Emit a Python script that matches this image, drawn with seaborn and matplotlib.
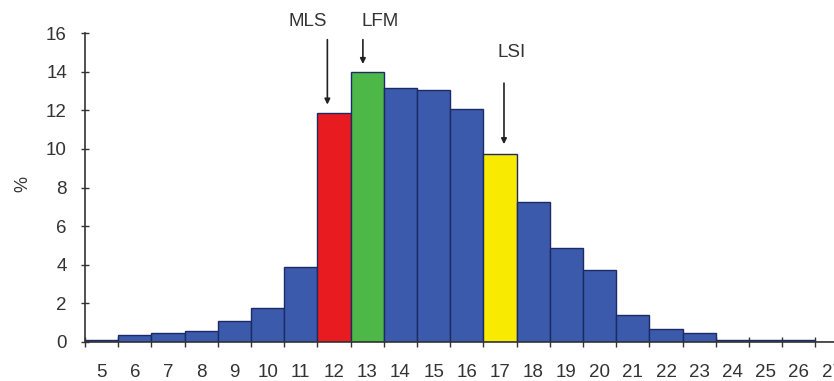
import numpy as np
import pandas as pd
import matplotlib
matplotlib.use("Agg")
import matplotlib.pyplot as plt
import seaborn as sns

# data
classes = [str(i) for i in range(5, 28)]
percent = [0.1, 0.38, 0.45, 0.55, 1.07, 1.75, 3.9, 11.85, 14.0, 13.15, 13.05,
           12.05, 9.75, 7.25, 4.85, 3.72, 1.38, 0.65, 0.47, 0.08, 0.08, 0.08, 0.0]
special = {"12": "#e81b20", "13": "#4db848", "17": "#f8ea00"}
blue = "#3b5aab"
labels = ["MLS", "LFM", "LSI"]
label_cls = ["12", "13", "17"]

df = pd.DataFrame({"cls": classes, "pct": percent})
colors = [special.get(c, blue) for c in classes]

sns.set_style("ticks")
plt.rcParams["font.family"] = ["Liberation Sans", "DejaVu Sans"]

fig = plt.figure(figsize=(8.34, 3.81), dpi=100)
ax = fig.add_axes([85 / 834, 39 / 381, 23 * 33.2 / 834, 309 / 381])

sns.barplot(data=df, x="cls", y="pct", hue="cls", palette=colors, legend=False,
            width=1.0, saturation=1, edgecolor="#1c2a66", linewidth=1.0, ax=ax)

ax.set_xlim(-0.5, 22.5)
ax.set_ylim(0, 16)
ax.set_yticks(range(0, 17, 2))
ax.set_xlabel("")
ax.set_ylabel("%", fontsize=13, color="#333333")
ax.yaxis.set_label_coords(-0.07, 0.51)

# ticks at bar edges, labels at bar centres
ax.set_xticks(np.arange(-0.5, 23, 1), minor=True)
ax.tick_params(axis="x", which="major", length=0, pad=16, labelsize=13.5, colors="#333333")
ax.tick_params(axis="x", which="minor", length=7, width=1, color="#333333", direction="inout")
ax.tick_params(axis="y", length=6, width=1, direction="inout", labelsize=13.5, colors="#333333", pad=10)
for s in ["top", "right"]:
    ax.spines[s].set_visible(False)
for s in ["left", "bottom"]:
    ax.spines[s].set_color("#333333")
    ax.spines[s].set_linewidth(1.2)

# arrows with labels: (text dx, text y, arrow dx, arrow start y, arrow end y)
layout = {"MLS": (-0.78, 16.58, -0.2, 15.8, 12.15),
          "LFM": (0.39, 16.58, -0.13, 15.8, 14.25),
          "LSI": (0.35, 14.97, 0.12, 13.55, 10.1)}
for name, cls in zip(labels, label_cls):
    i = classes.index(cls)
    tdx, ty, adx, y0, y1 = layout[name]
    ax.annotate("", xy=(i + adx, y1), xytext=(i + adx, y0),
                arrowprops=dict(arrowstyle="-|>", color="#222222", lw=1.2, mutation_scale=8),
                annotation_clip=False)
    ax.text(i + tdx, ty, name, ha="center", va="center",
            fontsize=13.5, color="#333333", clip_on=False)

fig.savefig("out.png", dpi=100)
